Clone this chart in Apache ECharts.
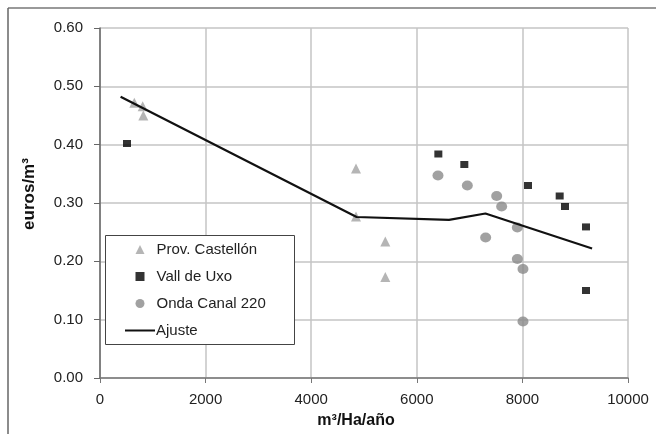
<!DOCTYPE html>
<html>
<head>
<meta charset="utf-8">
<script src="https://cdn.jsdelivr.net/npm/echarts@6/dist/echarts.min.js"></script>
<style>
  html, body { margin: 0; padding: 0; background: #fff; }
  #chart { width: 656px; height: 434px; }
</style>
</head>
<body>
<div id="chart"></div>
<script>
// Prov. Castellón (triangles)
const castellon = [
    [650, 0.472], [808, 0.466], [820, 0.450],
    [4848, 0.359], [4848, 0.277], [5404, 0.234], [5404, 0.173]
];
// Vall de Uxo (squares)
const vallUxo = [
    [511, 0.402], [6408, 0.384], [6900, 0.366], [8106, 0.330],
    [8706, 0.312], [8807, 0.294], [9205, 0.259], [9205, 0.150]
];
// Onda Canal 220 (circles)
const ondaCanal = [
    [6401, 0.347], [6957, 0.330], [7513, 0.312], [7607, 0.294],
    [7304, 0.241], [7904, 0.258], [7904, 0.204], [8011, 0.187], [8011, 0.097]
];
// Ajuste (fitted line)
const ajuste = [
    [390, 0.482], [4860, 0.276], [6610, 0.271], [7300, 0.282], [9320, 0.222]
];

const font = 'Liberation Sans, Arial, sans-serif';

let chart = echarts.init(document.getElementById('chart'));

let option = {
    animation: false,
    backgroundColor: '#ffffff',
    grid: {
        left: 100,
        right: 28,
        top: 28,
        bottom: 54,
        show: false
    },
    legend: [
        {
            // markers
            orient: 'vertical',
            left: 135.5,
            top: 242,
            padding: 0,
            z: 10,
            itemWidth: 9,
            itemHeight: 9,
            itemGap: 12,
            selectedMode: false,
            textStyle: { fontFamily: font, fontSize: 15, color: '#222', padding: [0, 0, 0, 7] },
            data: [
                { name: 'Prov. Castellón', icon: 'triangle' },
                { name: 'Vall de Uxo', icon: 'rect' },
                { name: 'Onda Canal 220', icon: 'circle' }
            ]
        },
        {
            // fitted line
            orient: 'vertical',
            left: 125,
            top: 323,
            padding: 0,
            z: 10,
            itemWidth: 30,
            itemHeight: 2,
            selectedMode: false,
            textStyle: { fontFamily: font, fontSize: 15, color: '#222', padding: [0, 0, 0, -4] },
            data: [{ name: 'Ajuste', icon: 'rect' }]
        }
    ],
    xAxis: {
        type: 'value',
        min: 0,
        max: 10000,
        interval: 2000,
        name: 'm³/Ha/año',
        nameLocation: 'middle',
        nameGap: 35,
        nameTextStyle: { fontFamily: font, fontSize: 16, fontWeight: 'bold', color: '#111', padding: [0, 16, 0, 0] },
        axisLine: { show: true, lineStyle: { color: '#777', width: 1.5 } },
        axisTick: { show: true, length: 5, lineStyle: { color: '#777' } },
        axisLabel: {
            fontFamily: font, fontSize: 15, color: '#222', margin: 14,
            formatter: function (v) { return String(v); }
        },
        splitLine: { show: true, lineStyle: { color: '#c4c4c4', width: 1.5 } }
    },
    yAxis: {
        type: 'value',
        min: 0,
        max: 0.6,
        interval: 0.1,
        name: 'euros/m³',
        nameLocation: 'middle',
        nameGap: 62,
        nameTextStyle: { fontFamily: font, fontSize: 17, fontWeight: 'bold', color: '#111', padding: [0, 0, 0, 18] },
        axisLine: { show: true, lineStyle: { color: '#666', width: 1.5 } },
        axisTick: { show: true, length: 6, lineStyle: { color: '#666' } },
        axisLabel: {
            fontFamily: font, fontSize: 15, color: '#222', margin: 17,
            formatter: function (v) { return v.toFixed(2); }
        },
        splitLine: { show: true, lineStyle: { color: '#c4c4c4', width: 1.5 } }
    },
    series: [
        {
            name: 'Prov. Castellón',
            type: 'scatter',
            symbol: 'triangle',
            symbolSize: 10,
            itemStyle: { color: '#a3a3a3' },
            data: castellon,
            z: 3
        },
        {
            name: 'Vall de Uxo',
            type: 'scatter',
            symbol: 'rect',
            symbolSize: [8, 7],
            itemStyle: { color: '#000' },
            data: vallUxo,
            z: 3
        },
        {
            name: 'Onda Canal 220',
            type: 'scatter',
            symbol: 'circle',
            symbolSize: [11, 10],
            itemStyle: { color: '#8a8a8a' },
            data: ondaCanal,
            z: 3
        },
        {
            name: 'Ajuste',
            type: 'line',
            showSymbol: false,
            symbol: 'none',
            lineStyle: { color: '#111', width: 2.2 },
            itemStyle: { color: '#111' },
            data: ajuste,
            z: 4
        }
    ],
    graphic: [
        // outer frame (top and left edges)
        { type: 'line', shape: { x1: 8, y1: 8, x2: 656, y2: 8 }, style: { stroke: '#999', lineWidth: 2 } },
        { type: 'line', shape: { x1: 8, y1: 8, x2: 8, y2: 434 }, style: { stroke: '#666', lineWidth: 1.5 } },
        // legend box
        {
            type: 'rect', z: 2, silent: true,
            shape: { x: 105.5, y: 235.5, width: 189, height: 109 },
            style: { fill: '#fff', stroke: '#444', lineWidth: 1 }
        }
    ]
};

chart.setOption(option);
</script>
</body>
</html>
